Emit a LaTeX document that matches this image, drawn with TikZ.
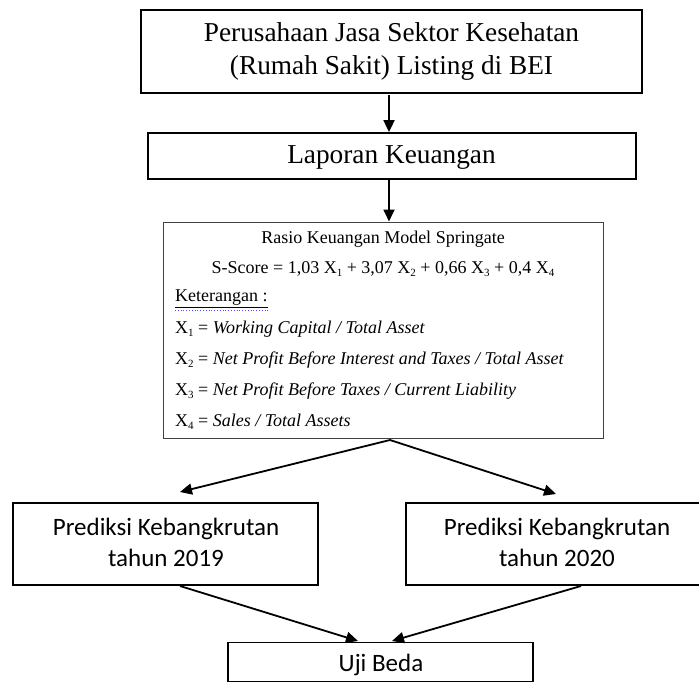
\documentclass[tikz,border=0pt]{standalone}
\usepackage{fontspec}
\setmainfont{Liberation Serif}
\newfontfamily\calib{Carlito}
\usetikzlibrary{arrows.meta,calc}
\newcommand\xsb[1]{\raisebox{-0.35ex}{\fontsize{11}{11}\selectfont #1}}
\tikzset{
  boxa/.style={draw=black, line width=1.8pt, rectangle, inner sep=0pt},
  boxb/.style={draw=black!75, line width=1pt, rectangle, inner sep=0pt},
  boxc/.style={draw=black, line width=1.4pt, rectangle, inner sep=0pt},
  ctext/.style={inner sep=0pt, align=center, font=\calib\fontsize{25}{31}\selectfont},
  ttext/.style={inner sep=0pt, align=center},
  arr/.style={draw=black, line width=1.8pt, -{Triangle[length=12pt,width=11pt]}},
  rline/.style={inner sep=0pt, font=\fontsize{18}{20}\selectfont},
}
\begin{document}
\begin{tikzpicture}[x=1pt,y=-1pt]
\useasboundingbox[fill=white] (0,0) rectangle (699,682);
% boxes
\node[boxa, minimum width=501pt, minimum height=83pt] (top) at (391.5,51.5) {};
\node[ttext, font=\fontsize{27.3}{33}\selectfont] (toptx) at (391.5,51)
  {Perusahaan Jasa Sektor Kesehatan\\(Rumah Sakit) Listing di BEI};
\node[boxa, minimum width=488pt, minimum height=46pt] (lap) at (392,156) {};
\node[ttext, font=\fontsize{27.3}{30}\selectfont] (laptx) at (391.5,158) {Laporan Keuangan};
\node[boxb, minimum width=440pt, minimum height=216pt] (ras) at (383,330) {};
\node[boxc, minimum width=305pt, minimum height=82pt] (p19) at (165.5,544) {};
\node[ctext] (p19tx) at (166,542) {Prediksi Kebangkrutan\\tahun 2019};
\node[boxc, minimum width=300pt, minimum height=82pt] (p20) at (556,544) {};
\node[ctext] (p20tx) at (557,542) {Prediksi Kebangkrutan\\tahun 2020};
\node[boxc, minimum width=305pt, minimum height=39pt, anchor=north] (uji) at (380.5,642) {};
\node[ctext] (ujitx) at (381,665) {Uji Beda};
% texts inside Rasio box
\node[rline] (r1) at (383,239) {Rasio Keuangan Model Springate};
\node[rline] (r2) at (383,269) {S-Score = 1,03 X\xsb{1} + 3,07 X\xsb{2} + 0,66 X\xsb{3} + 0,4 X\xsb{4}};
\node[rline, anchor=west] (r3) at (175,299) {\underline{Keterangan :}};
\draw[blue!70, line width=0.8pt, dotted] ($(r3.south west)+(0,2.5)$) -- ($(r3.south east)+(0,2.5)$);
\node[rline, anchor=west] (r4) at (175,329) {X\xsb{1} = \textit{Working Capital / Total Asset}};
\node[rline, anchor=west] (r5) at (175,360) {X\xsb{2} = \textit{Net Profit Before Interest and Taxes / Total Asset}};
\node[rline, anchor=west] (r6) at (175,391) {X\xsb{3} = \textit{Net Profit Before Taxes / Current Liability}};
\node[rline, anchor=west] (r7) at (175,422) {X\xsb{4} = \textit{Sales / Total Assets}};
% connector ends
\coordinate (a1) at (389,95);
\coordinate (a2) at (389,179);
\coordinate (s0) at (390,440);
\coordinate (t1) at (180,492);
\coordinate (t2) at (556,494);
\coordinate (b1) at (180,586);
\coordinate (b2) at (581,586);
\coordinate (u1) at (358,641);
\coordinate (u2) at (392,641);
% arrows
\draw[arr] (a1) -- (a1 |- lap.north);
\draw[arr] (a2) -- (a2 |- ras.north);
\draw[arr] (s0) -- (t1);
\draw[arr] (s0) -- (t2);
\draw[arr] (b1) -- (u1);
\draw[arr] (b2) -- (u2);
\end{tikzpicture}
\end{document}
